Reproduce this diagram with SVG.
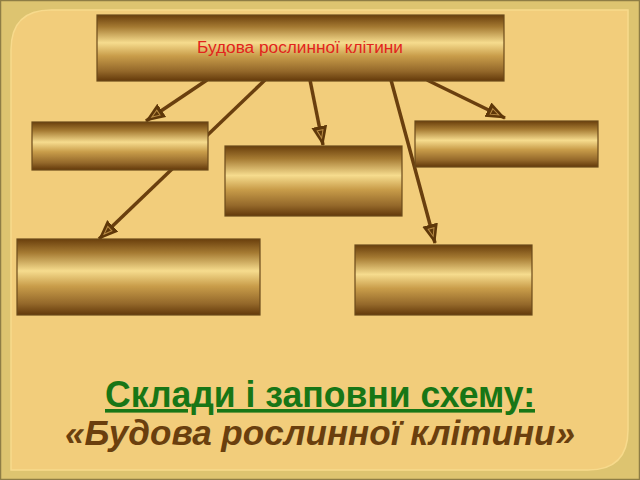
<svg xmlns="http://www.w3.org/2000/svg" width="640" height="480" viewBox="0 0 640 480">
<defs>
<linearGradient id="gold" x1="0" y1="0" x2="0" y2="1">
<stop offset="0" stop-color="#6a3f0c"/>
<stop offset="0.18" stop-color="#a57a32"/>
<stop offset="0.42" stop-color="#f6dc8e"/>
<stop offset="0.62" stop-color="#c99d4a"/>
<stop offset="0.85" stop-color="#94682a"/>
<stop offset="1" stop-color="#63390a"/>
</linearGradient>
<marker id="arr" markerUnits="userSpaceOnUse" markerWidth="22" markerHeight="18" refX="19" refY="8" orient="auto">
<path d="M0,0 L20,8 L0,16 z" fill="#5e3709"/>
<path d="M4,5 L12,8 L4,11 z" fill="none" stroke="#b98c45" stroke-width="1"/>
</marker>
<style>
.box{fill:url(#gold);stroke:#6b4a1a;stroke-width:1.2}
.con{stroke:#6a3f0e;stroke-width:3.5;fill:none;stroke-linecap:butt}
</style>
</defs>
<rect x="0" y="0" width="640" height="480" fill="#ddc470"/>
<rect x="0.5" y="0.5" width="639" height="479" fill="none" stroke="#8e7d45" stroke-width="1.5"/>
<path d="M51,10 L628,10 L628,430 Q628,470 588,470 L11,470 L11,50 Q11,10 51,10 Z" fill="#f2cd7b" stroke="#f7da8c" stroke-width="1.5"/>
<g id="connectors">
<line class="con" x1="207" y1="80" x2="146" y2="121" marker-end="url(#arr)"/>
<line class="con" x1="265" y1="80" x2="99" y2="239" marker-end="url(#arr)"/>
<line class="con" x1="310" y1="80" x2="323" y2="145" marker-end="url(#arr)"/>
<line class="con" x1="391" y1="80" x2="435" y2="243" marker-end="url(#arr)"/>
<line class="con" x1="427" y1="80" x2="505" y2="118" marker-end="url(#arr)"/>
</g>
<g id="root">
<rect class="box" x="97" y="15" width="407" height="66"/>
<text x="300" y="53" text-anchor="middle" font-family="Liberation Sans, Arial, sans-serif" font-size="16" fill="#e2241c" textLength="206" lengthAdjust="spacingAndGlyphs">Будова рослинної клітини</text>
</g>
<g id="boxA"><rect class="box" x="32" y="122" width="176" height="48"/></g>
<g id="boxB"><rect class="box" x="225" y="146" width="177" height="70"/></g>
<g id="boxC"><rect class="box" x="415" y="121" width="183" height="46"/></g>
<g id="boxD"><rect class="box" x="17" y="239" width="243" height="76"/></g>
<g id="boxE"><rect class="box" x="355" y="245" width="177" height="70"/></g>
<g id="caption">
<text x="320" y="407" text-anchor="middle" font-family="Liberation Sans, Arial, sans-serif" font-weight="bold" font-size="36" fill="#187616" text-decoration="underline" textLength="430" lengthAdjust="spacingAndGlyphs">Склади і заповни схему:</text>
<text x="320" y="445" text-anchor="middle" font-family="Liberation Sans, Arial, sans-serif" font-weight="bold" font-style="italic" font-size="35" fill="#6a3f0e" textLength="510" lengthAdjust="spacingAndGlyphs">«Будова рослинної клітини»</text>
</g>
</svg>
